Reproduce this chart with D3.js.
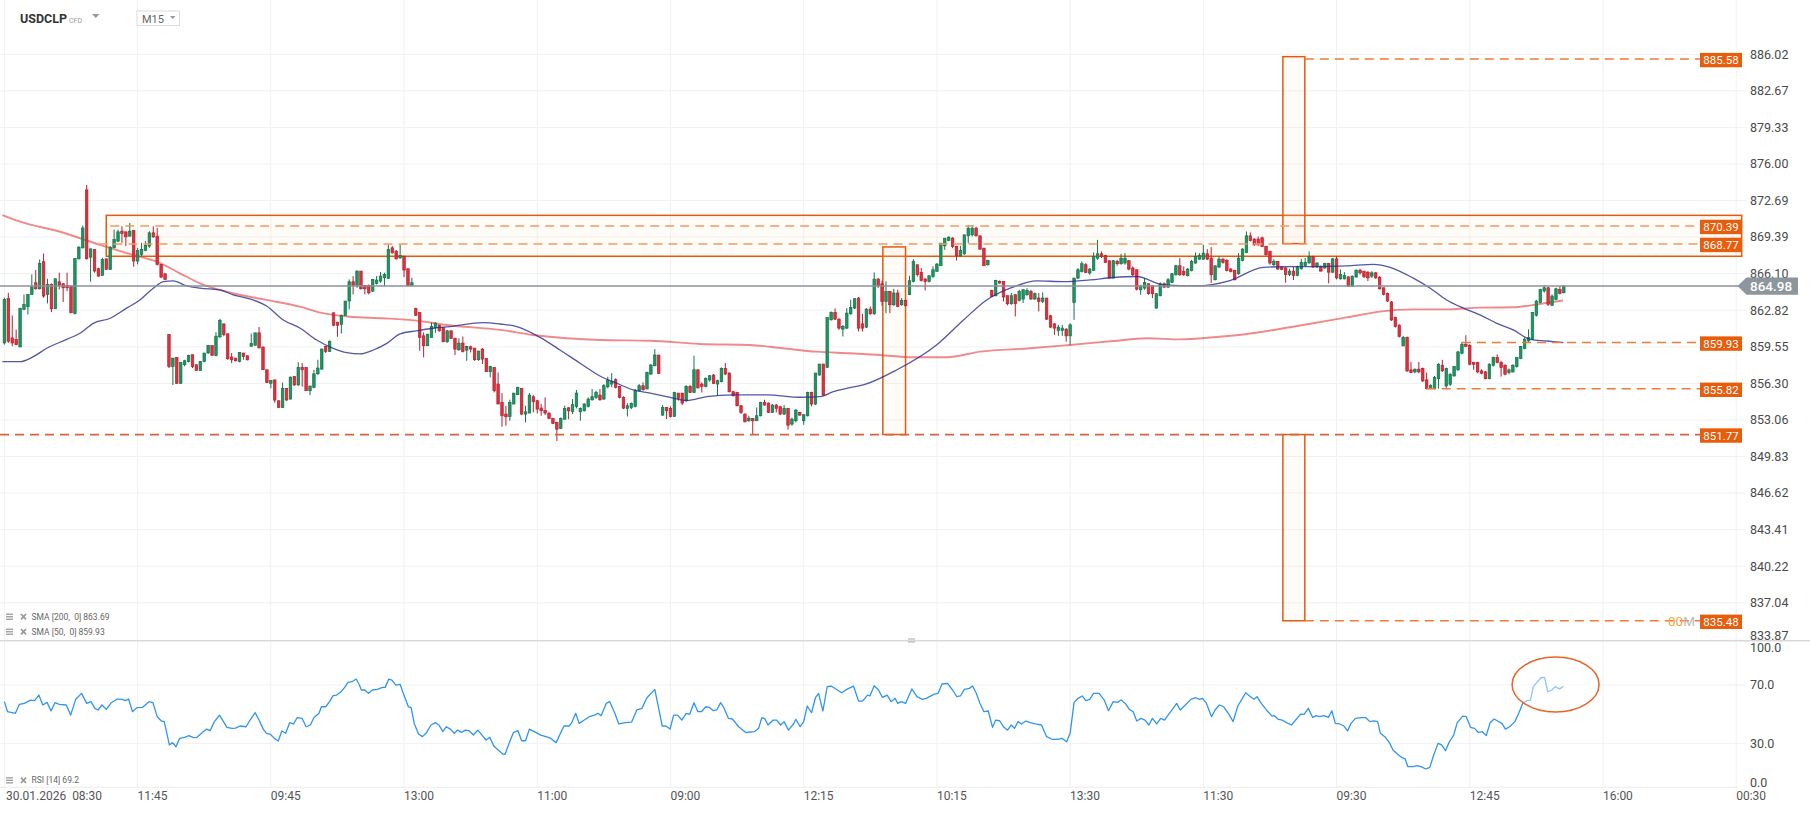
<!DOCTYPE html>
<html><head><meta charset="utf-8">
<script src="https://cdn.jsdelivr.net/npm/d3@7"></script>
<style>
html,body{margin:0;padding:0;background:#fff;overflow:hidden;}
svg{display:block;font-family:Roboto,"Noto Sans",sans-serif;}
</style></head><body>
<svg id="chart" width="1810" height="813"></svg>
<script>
// ---------------- DATA ----------------
const symbol = "USDCLP", symbolType = "CFD", timeframe = "M15";
const open = [859.90,863.88,860.35,860.20,859.54,862.89,863.13,864.23,865.28,864.74,
867.17,864.23,865.13,862.95,865.37,865.19,865.04,864.98,862.53,867.43,
868.42,873.65,867.58,868.27,866.54,865.94,867.43,866.48,868.42,869.02,
869.92,869.86,869.47,869.98,867.23,867.82,868.18,868.57,869.77,869.47,
866.93,866.09,860.65,857.81,858.61,856.31,857.96,858.25,858.85,857.96,
857.45,858.25,859.00,859.66,858.79,860.44,861.60,860.71,858.64,858.55,
858.25,859.00,858.76,859.60,859.69,860.80,859.54,857.51,856.31,856.61,
854.76,854.16,855.86,854.91,856.91,856.16,857.72,857.72,855.65,855.95,
857.15,857.57,859.60,859.15,862.59,861.75,861.54,862.35,863.64,865.37,
865.04,866.33,865.04,865.04,864.53,865.22,865.43,865.73,865.67,868.42,
868.12,867.52,867.67,866.54,865.04,862.96,862.61,860.53,859.65,860.39,
861.27,861.48,861.27,860.00,860.98,860.30,859.29,859.88,859.26,859.56,
859.44,858.40,859.35,858.52,857.34,857.72,856.24,854.61,853.58,853.37,
854.47,855.29,855.86,853.58,853.67,855.12,854.76,854.11,853.90,853.67,
853.19,852.84,852.31,853.13,854.14,853.81,854.26,853.78,853.87,854.26,
854.85,855.06,855.26,854.91,856.00,856.24,856.63,856.03,855.06,854.08,
854.17,854.26,855.65,856.09,855.80,857.13,857.87,858.82,853.49,854.17,
854.08,853.37,855.44,855.44,854.76,856.03,855.50,857.51,856.24,856.03,
856.60,857.04,856.24,856.45,857.63,857.22,855.56,855.50,854.32,853.58,
852.99,853.19,852.99,853.43,854.61,854.55,853.73,854.38,854.23,853.58,
854.08,852.69,852.99,853.73,852.99,853.43,855.50,854.47,857.04,858.02,
857.72,861.96,862.62,862.02,861.13,861.22,862.50,863.01,863.91,861.60,
861.31,862.92,862.50,865.61,865.19,863.61,864.50,863.31,864.36,863.31,
863.70,864.21,865.40,866.90,866.21,865.61,865.40,865.85,866.30,866.81,
868.60,869.08,869.29,868.54,867.70,867.88,869.50,869.59,870.19,869.50,
868.39,866.90,864.59,864.12,865.40,865.40,864.12,863.40,864.21,863.70,
863.82,864.21,864.50,863.82,863.91,863.61,863.91,862.32,861.60,861.01,
861.01,861.13,860.53,863.52,865.70,866.30,866.90,866.15,866.39,867.49,
867.88,867.73,867.26,865.70,867.20,866.99,867.05,867.26,866.60,866.45,
864.65,864.80,865.19,865.01,863.01,864.12,865.19,864.89,865.31,866.00,
866.81,866.30,865.91,866.39,867.05,867.40,867.40,867.88,867.49,865.55,
866.69,867.40,867.28,866.51,866.39,866.09,867.28,868.00,869.50,869.20,
869.20,869.32,868.54,868.12,866.90,867.20,866.70,866.61,866.02,866.32,
865.93,866.53,866.82,867.06,867.65,866.70,866.76,866.61,867.00,866.23,
867.42,865.63,865.63,865.81,864.98,865.81,866.41,866.32,866.23,865.87,
866.17,865.78,864.83,864.33,863.56,862.16,861.48,859.63,860.38,857.50,
857.32,857.56,857.62,856.61,855.83,855.83,856.72,857.91,856.07,856.22,
856.96,857.50,858.98,859.78,859.69,858.15,858.15,857.41,857.32,856.72,
857.91,858.60,858.15,857.91,857.26,857.32,857.79,858.51,859.40,860.08,
860.23,862.37,863.50,864.54,864.83,863.26,863.79,864.68,864.39];
const high = [863.94,864.38,862.35,861.10,863.04,864.23,864.23,866.03,866.42,867.37,
867.91,865.64,865.22,865.64,866.18,865.22,866.18,864.98,867.46,868.57,
870.42,874.10,868.33,868.27,866.63,867.52,867.43,868.57,870.06,870.06,
870.36,869.86,870.66,869.98,868.42,868.87,869.02,869.92,870.36,870.21,
866.93,866.09,860.65,858.55,858.61,858.17,858.40,858.85,858.85,857.96,
858.25,859.00,859.69,859.66,860.86,862.05,861.60,860.71,859.00,858.55,
859.06,859.00,858.76,860.74,860.80,861.33,859.54,857.51,856.61,856.61,
854.76,856.37,855.86,856.91,856.91,858.17,858.11,857.72,856.07,857.51,
858.40,859.36,859.60,860.11,862.59,861.75,862.44,863.64,865.58,865.88,
866.39,866.33,865.04,865.13,865.58,865.88,866.24,866.18,868.72,868.57,
868.21,868.72,867.67,866.54,865.73,863.05,862.61,860.83,860.68,861.72,
861.75,861.50,861.27,861.05,861.00,860.39,860.30,860.47,859.65,859.65,
859.44,859.20,859.44,858.52,857.87,857.72,857.28,855.44,854.32,854.85,
855.44,856.00,855.86,854.32,855.44,855.26,854.85,854.47,855.06,853.73,
853.25,852.90,853.28,854.32,854.17,854.91,855.71,854.17,854.55,855.06,
855.80,855.65,855.80,856.24,856.89,857.22,856.75,856.09,855.15,854.55,
854.61,855.80,856.24,856.39,857.34,858.02,859.35,858.82,854.38,854.17,
854.26,855.56,855.44,855.44,856.15,856.15,858.76,857.51,856.39,856.83,
857.04,857.13,856.63,857.72,858.11,857.28,855.65,855.56,854.38,853.64,
853.43,853.19,854.17,854.67,854.85,854.61,854.47,854.47,854.32,854.38,
854.08,853.28,854.02,853.78,853.58,855.56,855.56,857.22,858.02,858.02,
862.16,862.71,862.98,862.11,861.51,863.01,863.76,863.91,864.00,862.50,
863.01,863.16,866.21,865.70,865.49,865.40,864.50,864.74,864.65,863.91,
863.76,865.91,867.40,866.90,866.60,865.70,865.91,866.75,867.05,868.84,
869.29,869.44,869.38,868.60,868.60,869.59,870.48,870.48,870.33,869.50,
868.39,867.34,864.65,865.55,865.49,865.40,864.12,864.36,864.21,864.65,
864.71,864.80,864.65,864.42,864.36,864.42,863.91,862.41,861.66,861.51,
861.51,861.22,861.66,865.70,866.60,867.20,867.05,866.60,868.00,869.14,
868.09,867.79,867.26,867.34,867.34,867.88,867.94,867.34,866.75,866.45,
865.10,865.70,865.19,865.01,864.36,865.31,865.31,865.70,866.15,866.90,
867.49,866.75,866.60,867.34,868.00,867.94,868.69,868.30,868.48,866.81,
867.64,867.49,867.40,866.60,866.45,867.94,868.39,869.89,869.80,869.29,
869.44,869.44,868.60,868.12,867.40,867.20,866.76,866.70,866.53,866.70,
866.82,867.42,867.51,868.10,867.71,867.12,866.82,867.06,867.06,867.51,
867.65,866.47,866.23,865.87,865.93,866.47,866.53,866.32,866.32,866.32,
866.23,865.87,864.83,864.39,863.64,862.25,861.57,860.53,860.47,858.21,
857.62,858.21,857.70,857.26,856.22,856.96,858.09,858.39,857.70,857.20,
857.85,859.19,859.99,860.59,859.78,858.21,858.21,857.56,857.41,858.09,
858.68,858.89,858.30,858.00,857.62,858.00,858.60,859.63,860.38,861.12,
862.66,863.73,864.74,865.04,864.92,864.24,864.83,864.98,865.04];
const low = [859.75,859.90,859.60,859.69,859.54,862.83,862.44,864.23,864.68,864.68,
863.94,863.43,862.65,862.95,864.68,863.55,864.53,862.59,862.44,867.37,
868.36,867.37,865.37,866.18,865.82,865.94,866.48,866.42,868.42,868.93,
868.87,868.57,869.47,866.72,866.93,867.67,868.12,868.42,869.32,866.84,
865.70,865.58,857.66,856.16,856.25,856.25,857.81,858.17,857.66,857.45,
857.45,858.17,858.94,858.79,858.70,860.35,860.50,858.40,858.11,858.25,
858.17,858.40,858.34,859.60,859.69,859.45,857.51,856.31,855.86,854.58,
854.16,854.13,854.76,854.88,856.07,856.10,856.01,855.65,855.26,855.86,
857.06,857.51,859.00,859.09,861.39,860.44,860.74,862.35,862.89,864.23,
864.83,864.68,864.23,864.23,864.44,865.13,865.28,864.98,865.64,867.91,
867.37,867.43,865.79,864.98,864.98,862.31,859.20,858.61,859.65,860.39,
860.80,860.90,860.00,859.90,860.24,858.82,859.20,859.05,858.31,859.05,
858.31,858.31,858.02,857.34,856.83,855.50,854.47,852.46,852.55,852.99,
854.47,855.29,853.49,852.84,853.67,853.73,853.64,853.43,853.49,853.13,
852.69,851.21,852.25,853.07,853.13,853.58,854.08,852.99,853.81,854.17,
854.76,854.91,854.76,854.85,855.86,855.95,855.86,854.97,854.02,853.37,
854.02,854.17,855.56,855.65,855.80,857.04,857.81,857.13,853.43,853.13,
853.28,853.37,854.76,854.38,854.67,855.44,855.44,855.89,855.50,855.95,
856.45,856.24,855.21,856.39,857.04,855.50,855.12,854.26,853.58,852.84,
852.90,851.77,852.99,853.37,854.32,853.67,853.67,853.73,853.49,853.49,
852.19,852.55,852.84,853.43,852.63,853.37,854.26,854.38,856.98,855.21,
857.72,861.90,861.96,861.07,860.47,861.13,862.41,862.92,860.92,860.92,
861.22,862.41,862.41,864.80,863.22,862.56,862.56,863.22,863.10,863.22,
863.16,864.18,865.31,865.85,865.40,864.59,865.31,865.70,866.30,866.81,
868.24,869.02,868.39,867.28,867.64,867.79,868.84,869.44,869.44,868.24,
866.81,866.81,864.00,864.06,865.19,863.61,863.25,863.31,862.26,863.61,
863.46,864.12,863.76,863.76,862.71,863.46,861.96,861.22,860.62,860.53,
860.53,860.02,859.72,861.96,865.61,866.21,866.15,866.00,866.39,867.34,
867.49,867.05,865.70,865.70,866.81,866.90,866.90,866.39,865.85,864.59,
864.21,864.65,864.21,863.91,862.95,864.06,864.80,864.80,865.25,865.91,
865.91,865.91,865.85,866.30,866.99,867.34,867.34,867.34,865.25,865.49,
866.60,866.99,866.30,866.21,865.49,866.00,867.20,867.94,868.99,868.60,
868.60,868.48,867.73,866.90,866.75,866.45,866.41,865.28,865.87,865.52,
865.87,866.47,866.76,867.00,866.61,866.61,866.32,866.53,865.22,866.17,
865.58,865.58,865.58,864.92,864.92,865.72,866.02,865.72,865.43,865.72,
865.63,864.68,864.15,863.56,861.86,861.27,860.38,859.63,857.32,857.20,
857.20,857.20,856.43,855.77,855.77,855.77,855.83,857.32,855.83,856.07,
856.90,857.41,858.89,859.58,857.91,857.50,857.20,857.11,856.66,856.66,
857.79,858.09,856.90,857.02,857.11,857.26,857.70,858.45,859.34,859.99,
860.17,862.25,863.44,864.39,863.20,863.20,863.73,864.24,864.33];
const close = [863.79,860.05,859.90,859.75,862.98,863.34,864.23,864.92,864.74,867.02,
864.09,865.13,862.95,865.64,865.04,864.83,864.83,862.59,867.46,868.48,
870.21,867.43,868.33,866.33,865.88,867.37,866.48,868.48,869.17,869.86,
869.71,869.41,869.92,867.23,868.18,868.27,868.63,869.77,869.41,866.93,
865.79,865.58,857.81,858.55,856.31,858.17,858.31,858.79,857.81,857.45,
858.25,859.00,859.69,858.79,860.50,861.90,860.65,858.49,858.40,858.31,
859.06,858.70,858.40,859.84,860.80,859.45,857.51,856.37,856.55,854.82,
854.16,855.86,854.82,856.85,856.16,857.72,857.51,855.65,856.07,857.15,
857.66,859.36,859.15,860.05,861.48,861.48,862.35,863.64,865.37,865.04,
866.33,864.74,864.74,864.38,865.58,865.52,865.88,866.03,868.27,867.97,
867.43,867.73,866.42,865.04,865.28,862.37,860.39,859.65,860.68,861.36,
861.66,860.98,860.00,860.98,860.30,859.35,859.88,859.14,859.59,859.35,
858.40,859.17,858.46,857.34,857.81,855.65,854.47,853.43,853.34,854.61,
855.44,855.95,853.58,853.78,855.26,854.67,854.02,853.87,853.67,853.19,
852.75,852.25,853.19,854.08,853.87,854.41,855.44,854.08,854.47,854.91,
855.12,855.50,854.85,856.09,856.60,856.45,855.95,855.06,854.11,854.32,
854.52,855.65,856.09,855.74,857.28,857.93,858.82,857.19,854.17,853.87,
853.37,855.50,854.97,854.55,856.03,855.50,857.51,855.89,856.03,856.75,
856.98,856.30,856.54,857.63,857.13,855.56,855.21,854.32,853.73,852.90,
853.22,852.99,853.43,854.61,854.38,853.73,854.38,854.08,853.58,854.08,
852.60,853.13,853.93,853.49,853.52,855.50,854.47,857.22,858.02,855.26,
862.16,862.62,862.02,861.22,861.37,862.56,863.07,863.85,861.22,861.22,
862.92,862.50,865.61,865.01,863.61,864.50,863.31,864.36,863.16,863.70,
863.22,865.46,867.20,866.00,865.49,865.40,865.91,866.45,866.96,868.84,
869.29,869.38,868.54,867.70,868.18,869.59,870.19,870.19,869.50,868.30,
866.81,867.28,864.06,865.49,865.25,864.00,863.40,864.12,863.40,864.50,
864.65,864.59,863.82,864.30,863.61,863.91,862.02,861.31,861.22,861.31,
861.22,860.53,861.51,865.70,866.45,866.99,866.21,866.51,867.64,867.88,
867.64,867.11,865.70,867.26,866.99,867.49,867.49,866.51,866.00,864.71,
864.95,865.31,864.30,864.30,864.30,865.19,864.89,865.55,866.09,866.81,
866.00,866.00,866.51,867.20,867.64,867.73,867.94,867.40,866.00,866.81,
867.40,867.11,866.39,866.30,865.55,867.49,868.30,869.50,869.08,868.69,
868.69,868.54,867.79,867.05,867.20,866.51,866.47,866.02,866.32,865.93,
866.70,867.12,867.12,867.65,866.70,867.06,866.32,867.00,866.23,867.42,
865.72,866.02,865.93,864.98,865.87,866.41,866.17,865.81,865.72,866.17,
865.72,864.74,864.24,863.64,861.95,861.36,860.47,860.38,857.41,857.26,
857.56,857.32,856.52,855.83,856.13,856.81,858.00,857.41,857.62,857.11,
857.79,859.10,859.78,859.58,858.00,858.00,857.32,857.20,856.72,858.00,
858.60,858.15,857.70,857.11,857.50,857.91,858.60,859.58,860.23,860.38,
862.61,863.64,864.68,864.83,863.35,864.09,864.74,864.33,864.98];

const sma200Index = [-0.5,4,14.2,24.4,32.8,38.9,44.8,49.9,58.3,66.9,75.4,80.6,88.2,96.6,105.2,112.9,126.5,134.9,143.5,152,164.8,177.5,190.3,198.7,207.3,215.8,223.5,231.9,240.5,249,261.8,272,283,291.6,300.1,308.5,317.1,328.1,334,342.6,351.1,359.5,368.1,376.6,385,391.9,397.8];
const sma200Value = [871.38,870.78,869.87,868.68,867.78,867.17,866.13,865.23,864.34,863.74,863.14,862.60,862.24,862.10,861.89,861.50,861.06,860.61,860.31,860.16,860.10,859.81,859.72,859.42,859.12,858.98,858.83,858.62,858.62,859.12,859.42,859.72,860.07,860.31,860.22,860.40,860.70,861.30,861.65,862.18,862.69,862.90,862.90,863.05,863.08,863.38,863.69];
const sma50Index = [-0.5,4,7.4,10.8,15.9,19.3,22.7,27,31.2,34.6,38,40.6,43.1,46.5,49.9,55,58.4,63.5,66.9,71.2,75.5,79.7,83.9,87.4,90.8,94.2,97.6,101,105.2,109.5,113.7,122.2,126.5,130.8,136.7,141.8,146.9,152,156.3,160.5,164.8,169,174.2,179.3,186,194.6,203.1,208.2,211.6,215.8,219.2,227.7,237.9,244.8,250.7,256.7,263.5,270.3,277.1,283,289,295.8,304.3,312.8,321.3,328.1,334.1,342.6,349.4,353.7,359.6,363.9,368.1,372.4,376.6,380.9,385.1,389.4,393.6,397.9];
const sma50Value = [858.23,858.23,858.68,859.42,860.22,860.76,861.65,862.10,863.01,863.74,864.79,865.38,865.45,865.00,864.79,864.64,864.19,863.74,863.20,861.95,861.21,860.16,859.42,859.03,858.92,859.27,859.86,860.70,860.98,861.21,861.36,861.71,861.59,861.36,860.40,859.27,858.09,856.96,856.31,855.72,855.43,855.13,854.78,855.13,855.28,855.28,855.07,855.13,855.57,855.92,856.16,857.49,859.72,861.95,863.74,864.79,865.45,865.38,865.54,865.75,865.84,865.09,865.00,865.48,866.67,866.73,866.73,866.79,866.94,866.67,865.69,864.79,863.74,863.01,862.41,861.65,861.06,860.22,860.07,859.93];

const rsiIndex = [0,0.8,2.8,3.8,5.1,6.7,7.7,8.8,9.8,10.9,11.9,12.9,14,15.8,16.9,18.2,19.7,21,22.1,23.1,23.9,24.9,26,27.3,28.8,30.1,30.8,31.7,32.7,33.8,35.3,36.9,37.9,39,40,40.8,42.1,42.9,43.8,44.7,46,47.1,48.1,49,50.3,51.6,52.5,53.6,54.9,56.8,58.1,59,60.1,61.7,62.7,64,65,66.1,66.9,67.9,68.9,69.9,70.8,71.8,72.8,73.8,74.7,76,77,78.1,79,80.3,80.9,82,83,83.9,84.8,85.9,86.8,87.7,88.7,89.8,90.6,91.1,92,92.9,93.9,95.2,96.5,97.2,98.1,98.9,99.9,101,101.8,103.1,103.8,104.6,105.7,106.7,107.6,108.9,110,110.9,111.9,112.8,113.9,114.8,115.7,116.7,117.6,118.7,119.7,120.8,121.9,122.9,123.9,124.9,125.8,127.2,127.8,128.8,129.9,131.1,132,133,134,135.6,136.9,138.2,139.5,140.8,142.8,144.1,144.7,145.8,146.7,148,149.3,150.6,151.5,152.3,153.6,154.5,155.8,156.8,158.4,160.1,161.4,162.7,164,166,167.9,168.8,169.9,170.8,171.8,172.9,174,174.9,176,177,177.9,179,179.9,180.9,181.8,182.8,183.5,184.8,185.8,187.4,189.3,190.3,191.4,192.5,193.3,194,194.9,196.2,197.1,198.1,199,200.1,201.4,202,203.1,
204,204.9,206,207,207.8,208.9,210,211,212.2,213.7,215,216.7,218,219,220.3,220.9,222,223.1,224.1,225.3,226.3,227.3,228,228.9,230,231.6,232.9,234.3,235.3,237.3,238.3,239.3,240.7,242,243.1,244,245,246.3,247.1,248,249,250,251.1,252.2,253,254,255.1,256,257,257.8,258.7,259.6,260.7,261.8,263.1,264.7,266,267.4,268.7,270,271.1,272,273,274,275.1,276,277,278,279.4,280.7,281.8,283,284.1,285,286.1,287.1,288.1,289,290.1,291.1,292.1,293,294.1,295.1,296.1,297,298.1,299.2,300.1,301.4,302.8,304.1,305,305.8,306.8,308.1,309,310.1,311.2,312.5,313.6,314.8,315.7,316.8,317.8,318.9,319.7,320.8,322.1,323.5,324.1,325,326.1,327.2,328.5,329.9,330.9,331.7,332.8,333.9,334.8,335.7,336.8,337.9,338.8,339.7,340.8,341.9,342.8,343.7,344.8,346.4,347.5,348.5,349.5,350.5,351.2,352.3,353.5,354.4,355.5,356.6,357.5,358.2,359.5,360.6,361.5,362.8,363.8,364.8,365.9,366.8,367.8,368.8,369.9,370.8,372.2,373.1,374.2,375.2,376.2,377.2,378.2,379.2,380.2,381.1,382.2,383.1,384.2,385.5,386.5,387.5,388.6,389.5,390.2,391.3,392.2,393.1,393.9,394.9,395.8,396.9,397.9];
const rsiValue = [58.6,51.7,50.6,56.7,57.4,59.7,59.3,63.1,56.3,58.1,52.2,57.9,56.7,56.3,49.4,60.2,64.3,57.4,58.6,54.0,52.9,56.3,53.3,57.9,60.4,60.2,59.3,60.4,51.7,54.5,54.7,58.6,57.9,48.3,45.5,44.9,28.9,30.5,27.7,33.4,34.1,35.3,34.1,33.9,36.9,39.8,38.7,44.9,49.4,41.0,40.3,40.5,41.9,41.4,46.0,51.0,46.0,39.6,36.9,36.2,33.4,31.6,38.5,36.9,44.2,43.3,47.6,47.1,41.4,42.6,47.8,50.6,55.1,55.1,58.6,62.7,63.1,65.4,68.2,71.8,72.3,74.1,70.0,66.6,66.6,64.3,66.6,67.0,68.4,68.4,74.1,73.4,70.0,70.5,64.3,55.1,54.7,43.7,36.4,34.6,36.9,42.6,44.2,42.6,38.0,41.4,39.6,36.9,39.1,37.5,39.1,38.5,35.7,39.1,35.7,32.3,34.1,28.2,25.9,22.7,22.5,30.0,37.3,38.7,31.8,31.8,39.8,37.5,35.7,34.6,33.4,30.5,41.9,41.9,43.7,50.6,43.7,46.0,48.3,49.4,50.6,49.0,57.4,58.6,50.6,43.3,44.2,44.6,52.9,54.0,61.3,67.0,41.9,41.9,39.8,49.4,49.4,46.0,50.6,49.9,57.9,51.7,51.7,55.1,54.7,52.4,52.9,57.9,55.1,47.1,46.7,41.4,37.3,37.8,38.0,40.3,47.6,47.1,42.6,46.0,46.0,42.6,44.9,39.1,43.3,46.5,41.4,
44.9,55.6,51.0,61.3,64.3,52.2,68.9,69.3,67.3,64.7,67.0,69.3,59.0,59.0,63.1,62.5,69.5,66.6,61.5,63.1,58.6,60.9,57.4,58.6,57.4,67.3,62.0,60.2,60.9,63.8,64.3,70.7,71.1,66.6,62.0,62.5,67.0,67.7,69.3,64.7,57.4,51.7,52.2,41.0,46.0,45.5,41.0,39.1,42.6,40.3,44.9,43.3,45.3,44.2,43.3,42.6,34.6,32.8,32.8,33.4,31.1,36.9,57.9,60.9,62.5,59.3,60.2,64.3,64.3,59.7,52.4,58.6,58.1,59.7,57.4,53.3,51.7,45.3,47.1,46.0,42.6,47.1,43.3,47.1,46.0,49.4,53.3,57.4,52.9,56.3,60.2,61.3,60.2,60.9,57.4,48.3,52.9,56.3,55.1,50.1,44.9,55.6,59.7,64.7,62.5,60.2,62.0,57.4,52.9,48.7,49.0,46.7,46.0,44.2,42.6,47.1,50.1,49.9,54.0,47.8,49.0,48.3,49.0,47.8,52.4,43.7,43.3,41.9,38.5,43.7,47.1,47.6,47.6,44.9,45.5,44.9,36.9,34.6,30.5,25.4,22.7,20.4,19.3,14.0,14.0,14.7,14.0,12.4,13.5,22.0,30.0,28.9,25.0,31.1,35.7,44.2,48.7,48.3,41.0,40.3,37.5,38.0,35.3,44.2,46.7,45.3,43.7,39.8,41.4,44.9,50.6,57.4,59.3,59.7,68.9,72.3,75.0,75.3,65.4,66.6,68.9,67.3,69.2];

const timeLabels = ["30.01.2026  08:30","11:45","09:45","13:00","11:00","09:00","12:15","10:15","13:30","11:30","09:30","12:45","16:00","00:30"];
const timeLabelIndex = [0,34,68,102,136,170,204,238,272,306,340,374,408,442];
const priceTicks = [886.02,882.67,879.33,876.00,872.69,869.39,866.10,862.82,859.55,856.30,853.06,849.83,846.62,843.41,840.22,837.04,833.87];
const rsiTicks = [100,70,30,0];
const lastPrice = 864.98;
const sma200Last = 863.69, sma50Last = 859.93, rsiLast = 69.2;

// annotation levels (price, start candle index)
const levelPrice = [885.58,870.39,868.77,859.93,855.82,851.77,835.48];
const levelStart = [331.9,27,24,372,363,-1.2,331.9];
// annotation boxes (candle index range, price range)
const boxStart = [26.0,326.3,326.3,224.2];
const boxEnd = [443.4,331.9,331.9,230.0];
const boxTop = [871.35,885.80,851.77,868.50];
const boxBottom = [867.66,868.80,835.48,851.77];
const rsiMarkIndex = 395.9, rsiMarkValue = 70.4;

// ---------------- DRAW ----------------
const svg = d3.select('#chart');
const x = d3.scaleLinear().domain([0,442]).range([4.4,1736.2]);
const y = d3.scaleLog().domain([833.87,886.02]).range([639.4,54.3]);
const yr = d3.scaleLinear().domain([0,100]).range([787.1,641.3]);
const PLOT_R = 1746;
const GRID = '#eff1f3';

// grid
const g0 = svg.append('g');
g0.selectAll('line.vg').data(timeLabelIndex).join('line')
  .attr('x1',d=>x(d)).attr('x2',d=>x(d)).attr('y1',0).attr('y2',787)
  .attr('stroke',GRID).attr('stroke-width',1);
g0.selectAll('line.hg').data(priceTicks.slice(0,-1)).join('line')
  .attr('x1',0).attr('x2',PLOT_R).attr('y1',d=>y(d)).attr('y2',d=>y(d))
  .attr('stroke',GRID).attr('stroke-width',1);
g0.selectAll('line.rg').data([70,30]).join('line')
  .attr('x1',0).attr('x2',PLOT_R).attr('y1',d=>yr(d)).attr('y2',d=>yr(d))
  .attr('stroke',GRID).attr('stroke-width',1);
g0.append('line').attr('x1',0).attr('x2',1810).attr('y1',640.7).attr('y2',640.7).attr('stroke','#d9d9d9').attr('stroke-width',1.5);
g0.append('line').attr('x1',0).attr('x2',1737).attr('y1',787.3).attr('y2',787.3).attr('stroke','#ececec').attr('stroke-width',1);
g0.append('rect').attr('x',908).attr('y',638.5).attr('width',7).attr('height',1).attr('fill','#aaa');
g0.append('rect').attr('x',908).attr('y',641.5).attr('width',7).attr('height',1).attr('fill','#aaa');

// annotation boxes (behind candles)
const boxes = boxStart.map((s,k)=>({s,e:boxEnd[k],t:boxTop[k],b:boxBottom[k]}));
const ORANGE = '#e8590c';
svg.append('g').selectAll('rect').data(boxes).join('rect')
  .attr('x',d=>x(d.s)).attr('width',d=>x(d.e)-x(d.s))
  .attr('y',d=>y(d.t)).attr('height',d=>y(d.b)-y(d.t))
  .attr('fill','rgba(255,225,200,0.14)').attr('stroke',ORANGE).attr('stroke-width',1.5);

// SMA 200
const line = d3.line().x(d=>x(d[0])).y(d=>y(d[1])).curve(d3.curveMonotoneX);
svg.append('path').datum(sma200Index.map((v,k)=>[v,sma200Value[k]]))
  .attr('d',line).attr('fill','none').attr('stroke','rgba(232,64,64,0.62)').attr('stroke-width',1.9);

// candles
const data = open.map((o,i)=>({i,o,h:high[i],l:low[i],c:close[i]}));
const gc = svg.append('g');
const up = d=>d.c>=d.o;
gc.selectAll('line').data(data).join('line')
  .attr('x1',d=>x(d.i)).attr('x2',d=>x(d.i)).attr('y1',d=>y(d.h)).attr('y2',d=>y(d.l))
  .attr('stroke',d=>up(d)?'#13734a':'#b4202d').attr('stroke-width',1);
gc.selectAll('rect').data(data).join('rect')
  .attr('x',d=>x(d.i)-1.25).attr('width',2.5)
  .attr('y',d=>y(Math.max(d.o,d.c))).attr('height',d=>Math.max(1,Math.abs(y(d.o)-y(d.c))))
  .attr('fill',d=>up(d)?'#1f9563':'#e0303f')
  .attr('stroke',d=>up(d)?'#13734a':'#b4202d').attr('stroke-width',0.7);

// SMA 50
svg.append('path').datum(sma50Index.map((v,k)=>[v,sma50Value[k]]))
  .attr('d',line).attr('fill','none').attr('stroke','rgba(40,44,140,0.8)').attr('stroke-width',1.3);

// current price line
svg.append('line').attr('x1',0).attr('x2',1740).attr('y1',y(lastPrice)).attr('y2',y(lastPrice))
  .attr('stroke','#8a9298').attr('stroke-width',1.5);

// dashed levels
const levels = levelPrice.map((p,k)=>({p,s:levelStart[k]}));
const levelColor = p => p===851.77 ? '#d2643f' : (p===870.39||p===868.77 ? '#f29a66' : '#ee7a3c');
svg.append('g').selectAll('line').data(levels).join('line')
  .attr('x1',d=>Math.max(0,x(d.s))).attr('x2',1700).attr('y1',d=>y(d.p)).attr('y2',d=>y(d.p))
  .attr('stroke',d=>levelColor(d.p)).attr('stroke-width',d=>d.p===851.77?1.8:1.5).attr('stroke-dasharray','9,6');

// "00M" artefact text
const t00 = svg.append('text').attr('x',1668).attr('y',y(835.48)+5).attr('font-size',13.5);
t00.append('tspan').attr('fill','#f5a540').text('00');
t00.append('tspan').attr('fill','#b9b9b9').text('M');

// level tags
const gt = svg.append('g').selectAll('g').data(levels).join('g')
  .attr('transform',d=>`translate(1700,${y(d.p)+1})`);
gt.append('rect').attr('x',0).attr('y',-7.2).attr('width',42).attr('height',14.4).attr('fill','#e85d0c');
gt.append('text').attr('x',21).attr('y',4).attr('text-anchor','middle').attr('fill','#fff')
  .attr('font-size',11.5).text(d=>d.p.toFixed(2));

// price axis labels
svg.append('g').selectAll('text').data(priceTicks).join('text')
  .attr('x',1750).attr('y',(d,k)=> (k===priceTicks.length-1 ? y(d)-4 : y(d)) + 4.3)
  .attr('font-size',12.5).attr('fill','#4a4a4a').text(d=>d.toFixed(2));
// RSI axis labels
const rsiLabY = {100: 651.5, 70: yr(70)+4.3, 30: yr(30)+4.3, 0: 786.8};
svg.append('g').selectAll('text').data(rsiTicks).join('text')
  .attr('x',1750).attr('y',d=>rsiLabY[d]).attr('font-size',12.5).attr('fill','#4a4a4a').text(d=>d.toFixed(1));

// current price tag
const yl = y(lastPrice);
svg.append('path').attr('d',`M1737.5,${yl} L1746.5,${yl-8.7} L1798,${yl-8.7} L1798,${yl+8.7} L1746.5,${yl+8.7} Z`).attr('fill','#8c969c');
svg.append('text').attr('x',1750).attr('y',yl+5).attr('font-size',13.5).attr('font-weight',500).attr('fill','#fff').text(lastPrice.toFixed(2));

// RSI line
const rline = d3.line().x(d=>x(d[0])).y(d=>yr(d[1]));
svg.append('path').datum(rsiIndex.map((v,k)=>[v,rsiValue[k]]))
  .attr('d',rline).attr('fill','none').attr('stroke','#2f95ee').attr('stroke-width',1.3).attr('stroke-linejoin','round');
svg.append('ellipse').attr('cx',x(rsiMarkIndex)).attr('cy',yr(rsiMarkValue)).attr('rx',43.5).attr('ry',27.5)
  .attr('fill','rgba(255,255,255,0.45)').attr('stroke','#e8642a').attr('stroke-width',1.5);

// time labels
svg.append('g').selectAll('text').data(timeLabelIndex).join('text')
  .attr('x',d=>x(d)+(d===0?1.5:0)).attr('y',800).attr('font-size',12).attr('fill','#555')
  .attr('xml:space','preserve').text((d,k)=>timeLabels[k]);

// header
svg.append('text').attr('x',20).attr('y',22.5).attr('font-size',12.5).attr('font-weight',700).attr('fill','#333').text(symbol);
svg.append('text').attr('x',69).attr('y',22.5).attr('font-size',7).attr('fill','#999').text(symbolType);
svg.append('path').attr('d','M92,14 L99.5,14 L95.75,18 Z').attr('fill','#999');
svg.append('rect').attr('x',137).attr('y',11).attr('width',42.5).attr('height',14.5).attr('fill','#fff').attr('stroke','#dcdcdc');
svg.append('text').attr('x',142).attr('y',22.5).attr('font-size',11).attr('fill','#666').text(timeframe);
svg.append('path').attr('d','M170,16 L175.5,16 L172.75,19 Z').attr('fill','#999');

// legends
function legendIcon(yc){
  const g = svg.append('g');
  [-2.5,0,2.5].forEach(o=>g.append('rect').attr('x',6).attr('y',yc+o-0.6).attr('width',7).attr('height',1.3).attr('fill','#9a9a9a'));
  g.append('path').attr('d',`M21,${yc-2.7} L26,${yc+2.7} M26,${yc-2.7} L21,${yc+2.7}`).attr('stroke','#9a9a9a').attr('stroke-width',1.8);
}
const legends = [
  {y:616.7, t:`SMA [200,  0] ${sma200Last.toFixed(2)}`},
  {y:631.7, t:`SMA [50,  0] ${sma50Last.toFixed(2)}`},
  {y:780.3, t:`RSI [14] ${rsiLast.toFixed(1)}`}
];
legends.forEach(l=>{
  legendIcon(l.y);
  svg.append('text').attr('x',31.5).attr('y',l.y+3).attr('font-size',8.5).attr('fill','#666')
    .attr('xml:space','preserve').text(l.t);
});
</script>
</body></html>
